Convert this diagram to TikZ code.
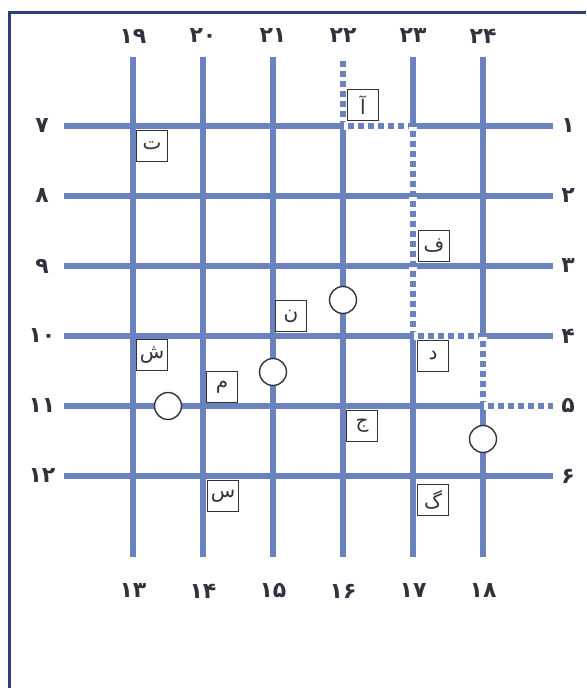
\documentclass[tikz,border=0pt]{standalone}
\usepackage{fontspec}
\newfontfamily\arabicfont[Script=Arabic]{DejaVu Sans}
\TeXXeTstate=1
\usetikzlibrary{positioning}
\definecolor{roadblue}{RGB}{106,130,190}
\definecolor{framenavy}{RGB}{48,62,125}
\definecolor{inkgray}{RGB}{50,50,62}
\tikzset{
    road/.style={
        line width=3pt,
        roadblue
    },
    closedroad/.style={
        line width=3.6pt,
        white,
        dash pattern=on 2pt off 3pt
    },
    stop/.style={
        circle,
        draw=inkgray,
        fill=white,
        line width=0.7pt,
        minimum size=13.5pt,
        inner sep=0pt
    },
    place/.style={
        rectangle,
        draw=inkgray,
        fill=white,
        line width=0.8pt,
        minimum size=15.5pt,
        inner sep=0pt,
        text=inkgray,
        font=\arabicfont\fontsize{10}{11}\selectfont
    },
    num/.style={
        inner sep=0pt,
        text=inkgray,
        font=\arabicfont\bfseries\fontsize{11}{12}\selectfont
    }
}

\begin{document}
\begin{tikzpicture}[x=0.5pt, y=-0.5pt]
\useasboundingbox (0,0) rectangle (586,688);

%---------------- Frame ----------------

\draw[framenavy, line width=1.5pt] (9,688) -- (9,13) -- (586,13);

%---------------- Streets ----------------

\foreach \i/\x/\t/\b in {1/133/۱۹/۱۳, 2/203/۲۰/۱۴, 3/273/۲۱/۱۵,
                        4/343/۲۲/۱۶, 5/413/۲۳/۱۷, 6/483/۲۴/۱۸} {
    \coordinate (c\i t) at (\x,57);
    \coordinate (c\i b) at (\x,557);
    \node[num] (top\i) at (\x,36) {\t};
    \node[num] (bot\i) at (\x,591) {\b};
    \draw[road] (c\i t) -- (c\i b);
}

\foreach \j/\y/\l/\r in {1/126/۷/۱, 2/196/۸/۲, 3/266/۹/۳,
                        4/336/۱۰/۴, 5/406/۱۱/۵, 6/476/۱۲/۶} {
    \coordinate (r\j w) at (64,\y);
    \coordinate (r\j e) at (553,\y);
    \node[num] (left\j) at (42,\y) {\l};
    \node[num] (right\j) at (568,\y) {\r};
    \draw[road] (r\j w) -- (r\j e);
}

%---------------- Closed route ----------------

\draw[closedroad] (c4t) -- (c4t |- r1w) -- (c5t |- r1w) -- (c5t |- r4w)
    -- (c6t |- r4w) -- (c6t |- r5w) -- (r5e);

%---------------- Places ----------------

\node[place] (alef) at (363,105) {\beginR آ\endR};
\node[place] (te)   at (152,146) {\beginR ت\endR};
\node[place] (fe)   at (434,246) {\beginR ف\endR};
\node[place] (nun)  at (291,316) {\beginR ن\endR};
\node[place] (shin) at (152,355) {\beginR ش\endR};
\node[place] (mim)  at (222,387) {\beginR م\endR};
\node[place] (dal)  at (433,356) {\beginR د\endR};
\node[place] (jim)  at (362,426) {\beginR ج\endR};
\node[place] (sin)  at (223,496) {\beginR س\endR};
\node[place] (gaf)  at (433,500) {\beginR گ\endR};

%---------------- Stops ----------------

\node[stop] (s1) at (343,300) {};
\node[stop] (s2) at (273,372) {};
\node[stop] (s3) at (168,406) {};
\node[stop] (s4) at (483,439) {};

\end{tikzpicture}
\end{document}
